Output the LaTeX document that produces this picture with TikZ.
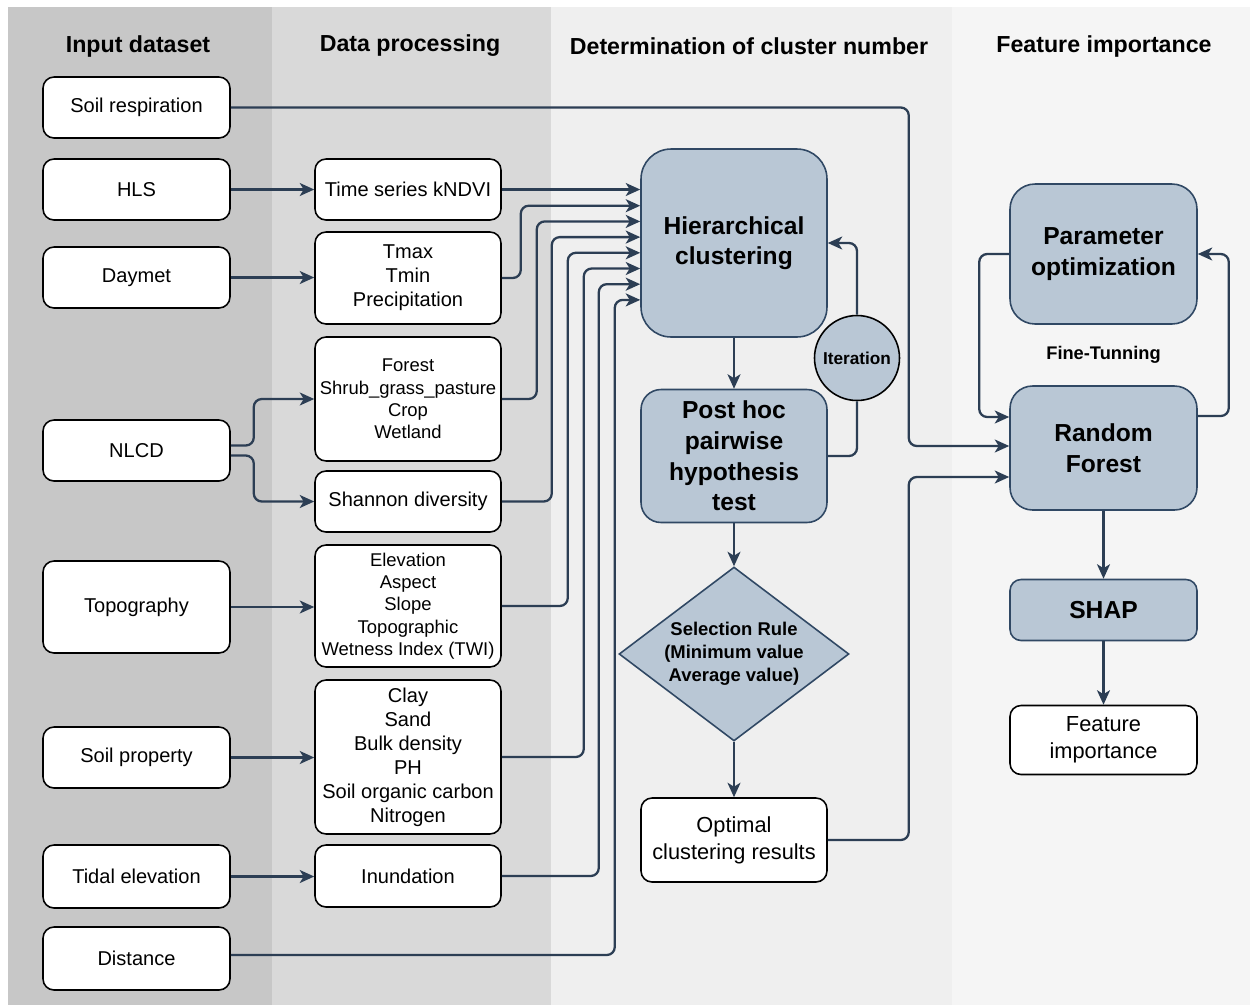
\documentclass[tikz,border=0pt]{standalone}
\usepackage{fontspec}
\setmainfont{Liberation Sans}
\usetikzlibrary{arrows.meta, shapes.geometric}

\definecolor{laneA}{RGB}{199,199,199}
\definecolor{laneB}{RGB}{217,217,217}
\definecolor{laneC}{RGB}{239,239,239}
\definecolor{laneD}{RGB}{245,245,245}
\definecolor{linecol}{RGB}{44,62,84}
\definecolor{fillblue}{RGB}{185,199,213}
\definecolor{edgeblue}{RGB}{48,72,100}

\begin{document}
\begin{tikzpicture}[x=0.02cm, y=-0.02cm,
    every node/.style={font=\fontsize{11.4}{13.7}\selectfont},
    inbox/.style={draw=black, line width=0.9pt, fill=white, rounded corners=0.22cm,
      minimum width=3.74cm, minimum height=1.22cm, align=center, inner sep=1pt},
    procbox/.style={inbox, minimum width=3.72cm},
    smalltext/.style={font=\fontsize{10.5}{12.7}\selectfont},
    bigtext/.style={font=\fontsize{12.4}{15.4}\selectfont},
    bluebox/.style={draw=edgeblue, line width=0.9pt, fill=fillblue, rounded corners=0.5cm,
      minimum width=3.72cm, align=center, inner sep=1pt,
      font=\fontsize{14}{17.4}\selectfont\bfseries},
    decision/.style={diamond, draw=edgeblue, line width=0.9pt, fill=fillblue, aspect=1.32,
      inner sep=0pt, minimum width=4.6cm, minimum height=3.48cm, align=center,
      font=\fontsize{10.5}{13}\selectfont\bfseries},
    head/.style={font=\fontsize{13.2}{15}\selectfont\bfseries},
    conn/.style={draw=linecol, line width=1.3pt, rounded corners=0.16cm},
    arr/.style={conn, -{Stealth[length=0.29cm, width=0.26cm, inset=0.08cm]}},
  ]
  \useasboundingbox (0,0) rectangle (1252,1005);

  % column bands
  \fill[laneA] (8,7) rectangle (272,1005);
  \fill[laneB] (272,7) rectangle (551,1005);
  \fill[laneC] (551,7) rectangle (952,1005);
  \fill[laneD] (952,7) rectangle (1250,1005);

  \node[head] (hInput) at (138,46) {Input dataset};
  \node[head] (hProc) at (410,46) {Data processing};
  \node[head] (hClust) at (749,46) {Determination of cluster number};
  \node[head] (hFeat) at (1104,46) {Feature importance};

  % input dataset
  \node[inbox] (soilresp) at (136.5,107.5) {Soil respiration};
  \node[inbox] (hls) at (136.5,189.5) {HLS};
  \node[inbox] (daymet) at (136.5,277.5) {Daymet};
  \node[inbox] (nlcd) at (136.5,450.5) {NLCD};
  \node[inbox, minimum height=1.84cm] (topo) at (136.5,607) {Topography};
  \node[inbox] (soilprop) at (136.5,757.5) {Soil property};
  \node[inbox, minimum height=1.26cm] (tidal) at (136.5,876.5) {Tidal elevation};
  \node[inbox, minimum height=1.26cm] (dist) at (136.5,958.5) {Distance};

  % data processing
  \node[procbox] (kndvi) at (408,189.5) {Time series kNDVI};
  \node[procbox, minimum height=1.84cm] (climate) at (408,278) {Tmax\\Tmin\\Precipitation};
  \node[procbox, smalltext, minimum height=2.48cm] (landcover) at (408,399)
    {Forest\\Shrub\_grass\_pasture\\Crop\\Wetland};
  \node[procbox] (shannon) at (408,501.5) {Shannon diversity};
  \node[procbox, smalltext, minimum height=2.44cm] (terrain) at (408,606)
    {Elevation\\Aspect\\Slope\\Topographic\\Wetness Index (TWI)};
  \node[procbox, minimum height=3.08cm] (soilvars) at (408,757)
    {Clay\\Sand\\Bulk density\\PH\\Soil organic carbon\\Nitrogen};
  \node[procbox, minimum height=1.24cm] (inund) at (408,876) {Inundation};

  % cluster number
  \node[bluebox, minimum height=3.76cm, rounded corners=0.6cm] (hclust) at (734,243)
    {Hierarchical\\clustering};
  \node[bluebox, minimum height=2.66cm, rounded corners=0.4cm] (posthoc) at (734,456)
    {Post hoc\\pairwise\\hypothesis\\test};
  \node[circle, draw=black, line width=0.9pt, fill=fillblue, minimum size=1.7cm, inner sep=0pt,
    font=\fontsize{9.8}{12}\selectfont\bfseries] (iter) at (857,358) {Iteration};
  \node[decision] (rule) at (734,654) {Selection Rule\\(Minimum value\\Average value)};
  \node[procbox, bigtext, minimum height=1.68cm] (optimal) at (734,840)
    {Optimal\\clustering results};

  % feature importance
  \node[bluebox, minimum width=3.74cm, minimum height=2.8cm] (paramopt) at (1103.5,254)
    {Parameter\\optimization};
  \node[font=\fontsize{10.4}{12}\selectfont\bfseries] (tuning) at (1103.5,355) {Fine-Tunning};
  \node[bluebox, minimum width=3.74cm, minimum height=2.48cm, rounded corners=0.45cm] (rf)
    at (1103.5,448) {Random\\Forest};
  \node[bluebox, minimum width=3.74cm, minimum height=1.22cm, rounded corners=0.22cm] (shap)
    at (1103.5,610) {SHAP};
  \node[inbox, bigtext, minimum height=1.38cm] (featimp) at (1103.5,740)
    {Feature\\importance};

  % connectors
  \draw[arr] (hls.east) -- (hls.east -| kndvi.west);
  \draw[arr] (daymet.east) -- (daymet.east -| climate.west);
  \draw[arr] ([yshift=0.1cm]nlcd.east) -- ++(23,0) |- (landcover.west);
  \draw[arr] ([yshift=-0.1cm]nlcd.east) -- ++(23,0) |- (shannon.west);
  \draw[arr] (topo.east) -- (topo.east -| terrain.west);
  \draw[arr] (soilprop.east) -- (soilprop.east -| soilvars.west);
  \draw[arr] (tidal.east) -- (tidal.east -| inund.west);

  \draw[arr] (kndvi.east) -- (kndvi.east -| hclust.west);
  \draw[arr] (climate.east) -- ++(19,0) |- ([yshift=0.746cm]hclust.west);
  \draw[arr] (landcover.east) -- ++(35,0) |- ([yshift=0.432cm]hclust.west);
  \draw[arr] (shannon.east) -- ++(50,0) |- ([yshift=0.118cm]hclust.west);
  \draw[arr] (terrain.east) -- ++(66,0) |- ([yshift=-0.196cm]hclust.west);
  \draw[arr] (soilvars.east) -- ++(82,0) |- ([yshift=-0.51cm]hclust.west);
  \draw[arr] (inund.east) -- ++(97,0) |- ([yshift=-0.824cm]hclust.west);
  \draw[arr] ([yshift=0.07cm]dist.east) -- ++(384,0) |- ([yshift=-1.138cm]hclust.west);

  \draw[arr] (hclust) -- (posthoc);
  \draw[arr] (posthoc) -- (rule);
  \draw[arr] (rule) -- (optimal);
  \draw[conn] (posthoc.east) -| (iter.south);
  \draw[arr] (iter.north) |- (hclust.east);

  \draw[arr] (soilresp.east) -- ++(678,0) |- ([yshift=0.04cm]rf.west);
  \draw[arr] (optimal.east) -- ++(81,0) |- ([yshift=-0.58cm]rf.west);
  \draw[arr] (paramopt.west) -- ++(-30,0) |- ([yshift=0.62cm]rf.west);
  \draw[arr] ([yshift=0.64cm]rf.east) -- ++(31,0) |- (paramopt.east);
  \draw[arr] (rf) -- (shap);
  \draw[arr] (shap) -- (featimp);
\end{tikzpicture}
\end{document}
